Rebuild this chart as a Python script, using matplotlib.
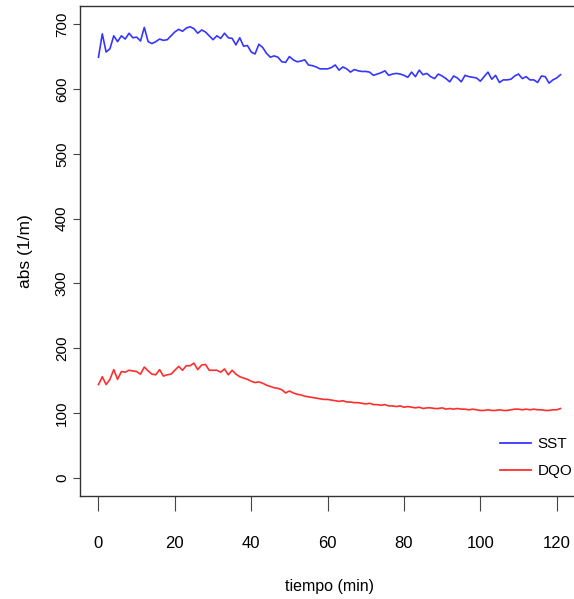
import matplotlib
matplotlib.use("Agg")
import matplotlib.pyplot as plt

# time axis (minutes)
tiempo = list(range(0, 122))

sst = [649, 685, 657, 662, 682, 673, 682, 677, 686, 679, 680, 674, 695, 673, 670, 673,
       677, 675, 676, 682, 688, 692, 689, 694, 696, 693, 686, 691, 688, 682, 676, 682,
       678, 686, 679, 678, 668, 679, 666, 667, 657, 654, 669, 664, 655, 649, 651, 649,
       642, 641, 650, 645, 642, 643, 645, 637, 636, 634, 631, 631, 631, 633, 637, 629,
       634, 631, 626, 630, 628, 627, 627, 626, 621, 623, 625, 628, 621, 623, 624, 623,
       621, 618, 626, 619, 629, 622, 624, 619, 616, 623, 620, 616, 611, 620, 617, 611,
       621, 619, 618, 617, 612, 619, 626, 615, 621, 610, 614, 614, 615, 620, 623, 616,
       619, 614, 614, 610, 620, 619, 609, 614, 617, 622]

dqo = [144, 156, 144, 152, 167, 152, 164, 163, 166, 165, 164, 160, 171, 165, 160, 159,
       167, 157, 159, 160, 166, 172, 166, 173, 173, 177, 167, 174, 175, 166, 166, 166,
       163, 168, 159, 166, 160, 156, 154, 152, 149, 147, 148, 146, 143, 141, 139, 138,
       136, 131, 134, 131, 129, 128, 126, 125, 124, 123, 122, 121, 121, 120, 119, 118,
       119, 117, 117, 116, 116, 115, 114, 115, 113, 113, 112, 113, 111, 111, 110, 111,
       109, 110, 109, 108, 109, 107, 108, 108, 107, 107, 108, 106, 107, 106, 107, 106,
       106, 105, 106, 105, 104, 104, 105, 104, 104, 105, 104, 104, 105, 106, 106, 105,
       106, 105, 106, 105, 105, 104, 104, 105, 105, 107]

series_names = ["SST", "DQO"]
series_colors = ["#3636ff", "#ff2e2e"]
x_ticks = [0, 20, 40, 60, 80, 100, 120]
y_ticks = [0, 100, 200, 300, 400, 500, 600, 700]

font = ["Liberation Sans", "DejaVu Sans"]

fig = plt.figure(figsize=(5.74, 5.99), dpi=100)
W, H = 574, 599
left, right, top, bottom = 80, 579, 6, 496
ax = fig.add_axes([left / W, 1 - bottom / H, (right - left) / W, (bottom - top) / H])

ax.plot(tiempo, sst, color=series_colors[0], lw=1.2, label=series_names[0])
ax.plot(tiempo, dqo, color=series_colors[1], lw=1.2, label=series_names[1])

# R-style 4% padding around the data/axis range
ax.set_xlim(-0.04 * 121, 121 * 1.04)
ax.set_ylim(-28, 728)

for s in ax.spines.values():
    s.set_color("#333333")
    s.set_linewidth(1.0)

ax.set_xticks(x_ticks)
ax.set_yticks(y_ticks)
ax.tick_params(axis="x", direction="out", length=11, width=0.8, color="#444444", pad=18)
ax.tick_params(axis="y", direction="out", length=5, width=0.8, color="#444444", pad=3)
for lab in ax.get_xticklabels():
    lab.set_family(font)
    lab.set_fontsize(12)
for lab in ax.get_yticklabels():
    lab.set_family(font)
    lab.set_fontsize(11)
    lab.set_rotation(90)
    lab.set_va("center")

ax.set_xlabel("tiempo (min)", family=font, fontsize=11.5, labelpad=20)
ax.set_ylabel("abs (1/m)", family=font, fontsize=12.5, labelpad=16)

leg = ax.legend(loc="upper left", bbox_to_anchor=(500 / W, 1 - 437 / H),
                bbox_transform=fig.transFigure, frameon=False,
                borderpad=0, borderaxespad=0,
                handlelength=2.0, handletextpad=0.45, labelspacing=0.85,
                prop={"family": font, "size": 11})
for line in leg.get_lines():
    line.set_linewidth(1.3)

fig.savefig("out.png", dpi=100)
